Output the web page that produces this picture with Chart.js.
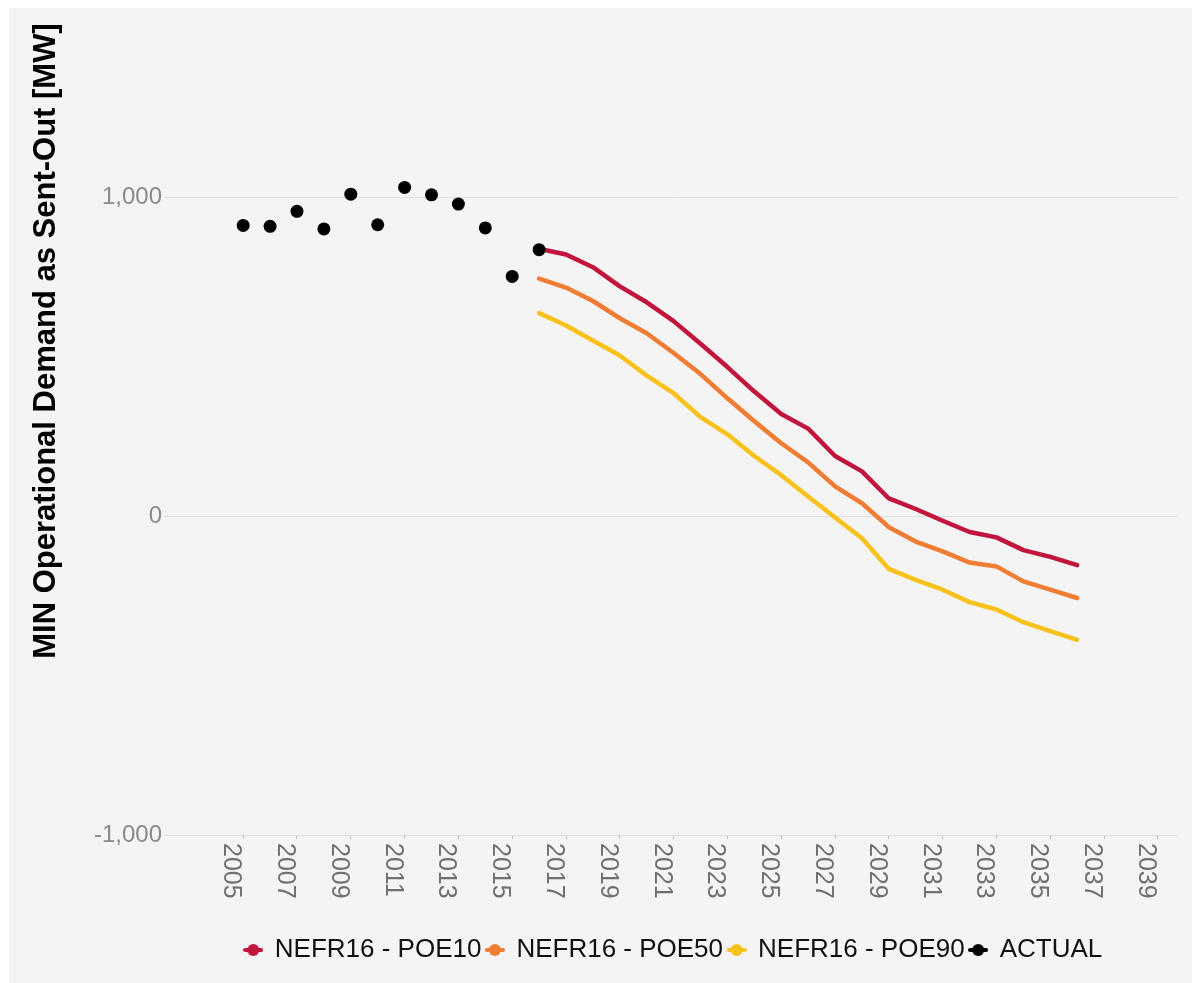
<!DOCTYPE html>
<html>
<head>
<meta charset="utf-8">
<script src="https://cdn.jsdelivr.net/npm/chart.js@4.4.1/dist/chart.umd.min.js"></script>
<style>
  html, body { margin: 0; padding: 0; background: #ffffff; }
  #wrap { width: 1192px; height: 983px; }
</style>
</head>
<body>
<div id="wrap"><canvas id="demandChart" width="1192" height="983"></canvas></div>
<script>
// MIN operational demand - actuals and NEFR16 forecasts

// --- Data ---
const actualYears = [2005, 2006, 2007, 2008, 2009, 2010, 2011, 2012, 2013, 2014, 2015, 2016];
const actualValues = [911, 908, 955, 900, 1009, 913, 1030, 1007, 978, 903, 751, 835];

const forecastYears = [2016, 2017, 2018, 2019, 2020, 2021, 2022, 2023, 2024, 2025, 2026,
                       2027, 2028, 2029, 2030, 2031, 2032, 2033, 2034, 2035, 2036];
const poe10Values = [838, 820, 780, 720, 670, 611, 540, 467, 390, 320, 274,
                     188, 140, 55, 22, -15, -50, -67, -107, -128, -154];
const poe50Values = [744, 716, 674, 620, 573, 511, 445, 369, 297, 228, 168,
                     93, 40, -35, -80, -111, -146, -158, -205, -231, -257];
const poe90Values = [636, 597, 550, 503, 440, 385, 310, 256, 188, 128, 61,
                     -5, -70, -166, -200, -231, -270, -293, -333, -361, -388];

const xTickYears = [2005, 2007, 2009, 2011, 2013, 2015, 2017, 2019, 2021, 2023,
                    2025, 2027, 2029, 2031, 2033, 2035, 2037, 2039];
const yTickValues = [-1000, 0, 1000];

const seriesLabels = ['NEFR16 - POE10', 'NEFR16 - POE50', 'NEFR16 - POE90', 'ACTUAL'];
const seriesColors = ['#c1153d', '#ef7d33', '#f8c21d', '#000000'];
const yTitle = 'MIN Operational Demand as Sent-Out [MW]';

const FONT = '"Liberation Sans", Arial, sans-serif';

// --- Helpers ---
function toPoints(xs, ys) {
    return xs.map((x, i) => ({ x: x, y: ys[i] }));
}

// legend marker: short line with a dot on it
function legendMarker(color) {
    const c = document.createElement('canvas');
    c.width = 20;
    c.height = 14;
    const g = c.getContext('2d');
    g.strokeStyle = color;
    g.fillStyle = color;
    g.lineWidth = 4;
    g.lineCap = 'round';
    g.beginPath();
    g.moveTo(2, 7);
    g.lineTo(18, 7);
    g.stroke();
    g.beginPath();
    g.arc(10, 7, 6, 0, Math.PI * 2);
    g.fill();
    return c;
}
const markers = seriesColors.map(legendMarker);

function lineDataset(i, values) {
    return {
        label: seriesLabels[i],
        data: toPoints(forecastYears, values),
        borderColor: seriesColors[i],
        backgroundColor: seriesColors[i],
        borderWidth: 4.5,
        borderCapStyle: 'round',
        borderJoinStyle: 'round',
        pointRadius: 0,
        tension: 0,
        order: 1
    };
}

// --- Panel background, rotated year labels, y title ---
const decorPlugin = {
    id: 'decor',
    beforeDraw(chart) {
        const ctx = chart.ctx;
        ctx.save();
        ctx.fillStyle = '#f5f4f5';
        ctx.fillRect(9, 8, chart.width - 9, chart.height - 8);
        ctx.restore();
    },
    afterDraw(chart) {
        const ctx = chart.ctx;
        const xs = chart.scales.x;
        const bottom = chart.chartArea.bottom;

        ctx.save();
        ctx.fillStyle = '#707070';
        ctx.font = '25px ' + FONT;
        ctx.textAlign = 'left';
        ctx.textBaseline = 'alphabetic';
        xs.ticks.forEach(t => {
            const px = xs.getPixelForValue(t.value);
            ctx.save();
            ctx.translate(px, bottom + 8);
            ctx.rotate(Math.PI / 2);
            ctx.fillText(String(t.value), 0, 19);
            ctx.restore();
        });

        ctx.fillStyle = '#000000';
        ctx.font = 'bold 31px ' + FONT;
        ctx.textAlign = 'center';
        ctx.translate(55, 341);
        ctx.rotate(-Math.PI / 2);
        ctx.fillText(yTitle, 0, 0);
        ctx.restore();
    }
};

// --- Chart ---
const ctx = document.getElementById('demandChart').getContext('2d');

const chart = new Chart(ctx, {
    type: 'line',
    data: {
        datasets: [
            lineDataset(0, poe10Values),
            lineDataset(1, poe50Values),
            lineDataset(2, poe90Values),
            {
                label: seriesLabels[3],
                data: toPoints(actualYears, actualValues),
                showLine: false,
                borderColor: seriesColors[3],
                backgroundColor: seriesColors[3],
                pointRadius: 6.5,
                pointBorderWidth: 0,
                order: 0
            }
        ]
    },
    options: {
        responsive: false,
        devicePixelRatio: 1,
        animation: false,
        layout: { padding: { top: 12, right: 15, bottom: 10, left: 0 } },
        scales: {
            x: {
                type: 'linear',
                min: 2002.28,
                max: 2039.71,
                border: { display: false },
                grid: { drawOnChartArea: false, drawTicks: true, tickLength: 4, color: '#c4c4c4' },
                ticks: { display: false },
                afterBuildTicks: (scale) => { scale.ticks = xTickYears.map(v => ({ value: v })); },
                afterFit: (scale) => { scale.height = 97; }
            },
            y: {
                min: -1000,
                max: 1580,
                border: { display: false },
                grid: { color: '#dedede', lineWidth: 1, tickLength: 6 },
                ticks: {
                    color: '#8a8a8a',
                    padding: 2,
                    font: { family: FONT, size: 24 },
                    callback: (v) => v.toLocaleString('en-US')
                },
                afterBuildTicks: (scale) => { scale.ticks = yTickValues.map(v => ({ value: v })); },
                afterFit: (scale) => {
                    scale.width = 170;
                    scale.paddingTop = 0;
                    scale.paddingBottom = 0;
                }
            }
        },
        plugins: {
            legend: {
                position: 'bottom',
                fullSize: false,
                labels: {
                    usePointStyle: true,
                    pointStyleWidth: 17,
                    padding: 5,
                    color: '#111111',
                    font: { family: FONT, size: 26 },
                    sort: (a, b) => a.datasetIndex - b.datasetIndex,
                    generateLabels(chart) {
                        const items = Chart.defaults.plugins.legend.labels.generateLabels(chart);
                        items.forEach(it => { it.pointStyle = markers[it.datasetIndex]; });
                        return items;
                    }
                }
            },
            tooltip: { enabled: false }
        }
    },
    plugins: [decorPlugin]
});
</script>
</body>
</html>
